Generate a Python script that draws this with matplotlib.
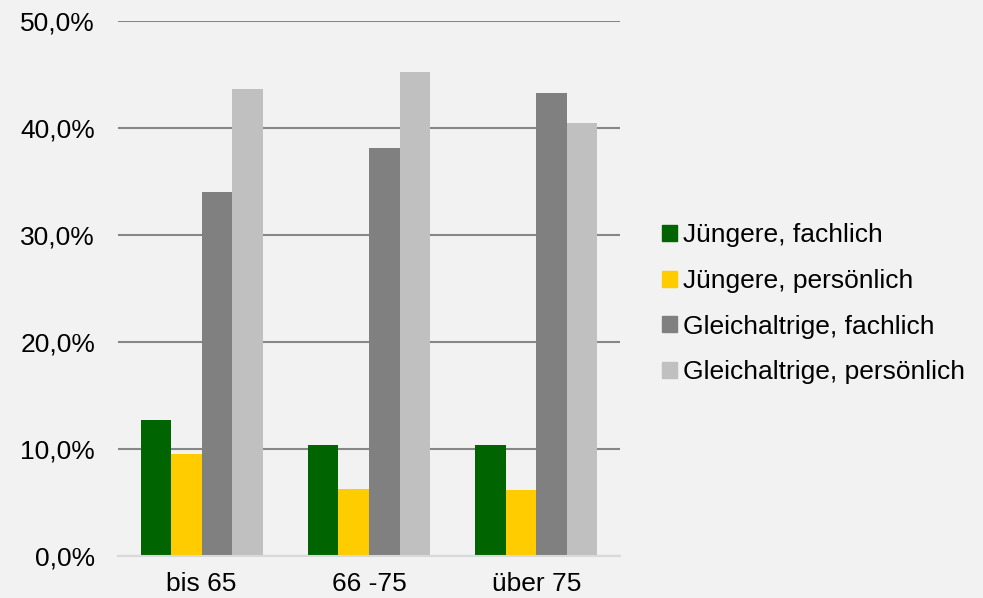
import numpy as np
import matplotlib
matplotlib.use("Agg")
import matplotlib.pyplot as plt
import matplotlib.patches as mpatches
from matplotlib.ticker import FuncFormatter

plt.rcParams.update({
    "font.family": ["Liberation Sans", "DejaVu Sans"],
    "font.size": 19,
})

# Daten
kategorien = ["bis 65", "66 -75", "über 75"]
serien = ["Jüngere, fachlich", "Jüngere, persönlich",
          "Gleichaltrige, fachlich", "Gleichaltrige, persönlich"]
jung_fach = [12.7, 10.3, 10.3]
jung_pers = [9.5, 6.2, 6.1]
gleich_fach = [34.0, 38.1, 43.2]
gleich_pers = [43.6, 45.2, 40.4]
farben = ["#006400", "#FFCC00", "#808080", "#C0C0C0"]

BG = "#F2F2F2"

fig = plt.figure(figsize=(9.83, 5.98), dpi=100, facecolor=BG)
ax = fig.add_axes([0.12, 0.071, 0.5107, 0.8943], facecolor=BG)

x = np.arange(len(kategorien))
w = 0.1825
werte = [jung_fach, jung_pers, gleich_fach, gleich_pers]
for i, (vals, col) in enumerate(zip(werte, farben)):
    ax.bar(x + (i - 1.5) * w, vals, width=w, color=col, zorder=3, linewidth=0)

ax.set_xlim(-0.5, 2.5)
ax.set_ylim(0, 50)
ax.set_yticks(np.arange(0, 51, 10))
ax.yaxis.set_major_formatter(FuncFormatter(lambda v, p: f"{v:.1f}%".replace(".", ",")))
ax.set_xticks(x)
ax.set_xticklabels(kategorien)

ax.grid(axis="y", color="#878787", linewidth=1.5, zorder=0)
for s in ["top", "right", "left"]:
    ax.spines[s].set_visible(False)
ax.spines["bottom"].set_color("#D9D9D9")
ax.spines["bottom"].set_linewidth(1.5)
ax.spines["bottom"].set_zorder(4)
ax.tick_params(axis="both", length=0, labelsize=19, colors="black")
ax.tick_params(axis="y", pad=16.5)
ax.tick_params(axis="x", pad=12)

handles = [mpatches.Patch(color=c, label=l) for c, l in zip(farben, serien)]
fig.legend(handles=handles, loc="center left", bbox_to_anchor=(0.663, 0.492),
           frameon=False, fontsize=19, handlelength=0.55, handleheight=0.55,
           handletextpad=0.25, labelspacing=0.82, borderaxespad=0)

fig.savefig("out.png", dpi=100, facecolor=BG)
